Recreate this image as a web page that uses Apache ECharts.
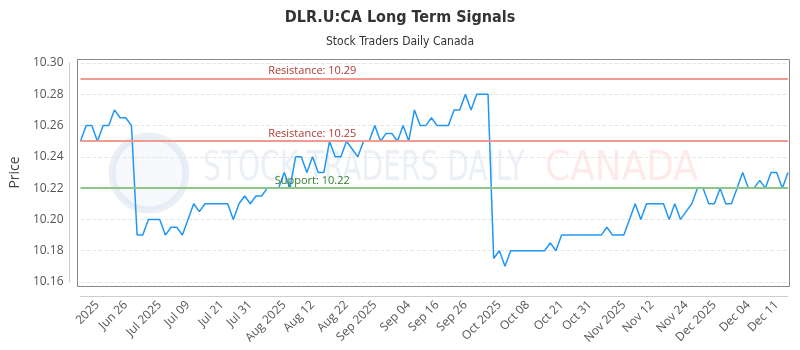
<!DOCTYPE html>
<html>
<head>
<meta charset="utf-8">
<script src="https://cdn.jsdelivr.net/npm/echarts@6/dist/echarts.min.js"></script>
<style>
  html, body { margin: 0; padding: 0; background: #fff; }
  #chart { width: 800px; height: 350px; }
</style>
</head>
<body>
<div id="chart"></div>
<script>
// daily closes
const prices = [
  10.25, 10.26, 10.26, 10.25, 10.26, 10.26, 10.27, 10.265, 10.265, 10.26,
  10.19, 10.19, 10.20, 10.20, 10.20, 10.19, 10.195, 10.195, 10.19, 10.20,
  10.21, 10.205, 10.21, 10.21, 10.21, 10.21, 10.21, 10.20, 10.21, 10.215,
  10.21, 10.215, 10.215, 10.22, 10.22, 10.22, 10.23, 10.22, 10.24, 10.24,
  10.23, 10.24, 10.23, 10.23, 10.25, 10.24, 10.24, 10.25, 10.245, 10.24,
  10.25, 10.25, 10.26, 10.25, 10.255, 10.255, 10.25, 10.26, 10.25, 10.27,
  10.26, 10.26, 10.265, 10.26, 10.26, 10.26, 10.27, 10.27, 10.28, 10.27,
  10.28, 10.28, 10.28, 10.175, 10.18, 10.17, 10.18, 10.18, 10.18, 10.18,
  10.18, 10.18, 10.18, 10.185, 10.18, 10.19, 10.19, 10.19, 10.19, 10.19,
  10.19, 10.19, 10.19, 10.195, 10.19, 10.19, 10.19, 10.20, 10.21, 10.20,
  10.21, 10.21, 10.21, 10.21, 10.20, 10.21, 10.20, 10.205, 10.21, 10.22,
  10.22, 10.21, 10.21, 10.22, 10.21, 10.21, 10.22, 10.23, 10.22, 10.22,
  10.225, 10.22, 10.23, 10.23, 10.22, 10.23
];

const tickLabels = [
  '2025', 'Jun 26', 'Jul 2025', 'Jul 09', 'Jul 21', 'Jul 31', 'Aug 2025',
  'Aug 12', 'Aug 22', 'Sep 2025', 'Sep 04', 'Sep 16', 'Sep 26', 'Oct 2025',
  'Oct 08', 'Oct 21', 'Oct 31', 'Nov 2025', 'Nov 12', 'Nov 24', 'Dec 2025',
  'Dec 04', 'Dec 11'
];

const resistance = [10.29, 10.25];
const support = [10.22];

const yMin = 10.16;
const yMax = 10.30;
const yStep = 0.02;

// labels sit every ~5.5 points along the axis
const labelStart = 2.6;
const labelStep = 5.49;
const labelAt = {};
tickLabels.forEach((t, k) => {
  labelAt[Math.round(labelStart + k * labelStep)] = t;
});

const font = "'Open Sans', 'Noto Sans', sans-serif";
const narrow = "'Liberation Sans Narrow', 'DejaVu Sans Condensed', sans-serif";

const chart = echarts.init(document.getElementById('chart'));

const levelLine = (value, kind) => ({
  yAxis: value,
  lineStyle: {
    color: kind === 'r' ? '#f09a90' : '#8cc68a',
    width: 2,
    type: 'solid'
  },
  label: {
    show: true,
    position: 'insideMiddleTop',
    offset: [-122, 0],
    distance: 2,
    formatter: (kind === 'r' ? 'Resistance: ' : 'Support: ') + value.toFixed(2),
    color: kind === 'r' ? '#b23a35' : '#357a32',
    fontSize: 11,
    fontFamily: font
  }
});

const option = {
  animation: false,
  backgroundColor: '#fff',
  title: {
    text: 'DLR.U:CA Long Term Signals',
    subtext: 'Stock Traders Daily Canada',
    left: 'center',
    top: 5,
    itemGap: 10,
    textStyle: { fontFamily: narrow, fontSize: 16, fontWeight: 'bold', color: '#333' },
    subtextStyle: { fontFamily: narrow, fontSize: 12, color: '#333' }
  },
  grid: { left: 78, right: 12, top: 63, bottom: 68 },
  graphic: [
    {
      type: 'circle', z: 0, silent: true,
      shape: { cx: 149, cy: 173, r: 37 },
      style: { fill: 'rgba(215,225,240,0.2)', stroke: 'rgba(190,205,228,0.3)', lineWidth: 7 }
    },
    {
      type: 'text', z: 0, silent: true, left: 203, top: 150, scaleX: 0.78,
      style: { text: 'STOCK TRADERS DAILY', font: '40px ' + narrow, fill: 'rgba(190,205,225,0.3)' }
    },
    {
      type: 'text', z: 0, silent: true, left: 545, top: 150,
      style: { text: 'CANADA', font: '40px ' + narrow, fill: 'rgba(255,160,160,0.22)' }
    },
    {
      type: 'rect', z: 10, silent: true,
      shape: { x: 77.5, y: 59.5, width: 712, height: 227 },
      style: { fill: 'none', stroke: '#888', lineWidth: 1 }
    }
  ],
  xAxis: {
    type: 'category',
    boundaryGap: false,
    offset: 14,
    data: prices.map((_, i) => i),
    axisLine: { lineStyle: { color: '#ccc' } },
    axisTick: { show: false },
    splitLine: { show: false },
    axisLabel: {
      rotate: 45,
      margin: 7,
      fontSize: 12,
      fontFamily: font,
      color: '#555',
      interval: (i) => labelAt[i] !== undefined,
      formatter: (v, i) => labelAt[i] || ''
    }
  },
  yAxis: {
    type: 'value',
    min: yMin,
    max: yMax,
    interval: yStep,
    offset: 11,
    name: 'Price',
    nameLocation: 'middle',
    nameGap: 43,
    nameTextStyle: { fontFamily: font, fontSize: 14, color: '#444' },
    axisLine: { show: true, lineStyle: { color: '#ccc' } },
    axisTick: { show: false },
    axisLabel: {
      margin: 6,
      fontSize: 12,
      fontFamily: font,
      color: '#555',
      formatter: (v) => v.toFixed(2)
    },
    splitLine: { lineStyle: { color: '#e6e6e6', type: 'dashed' } }
  },
  series: [
    {
      type: 'line',
      data: prices,
      showSymbol: false,
      lineStyle: { color: '#2196f3', width: 1.5 },
      itemStyle: { color: '#2196f3' },
      markLine: {
        silent: true,
        symbol: 'none',
        data: resistance.map((v) => levelLine(v, 'r')).concat(support.map((v) => levelLine(v, 's')))
      }
    }
  ]
};

chart.setOption(option);
</script>
</body>
</html>
